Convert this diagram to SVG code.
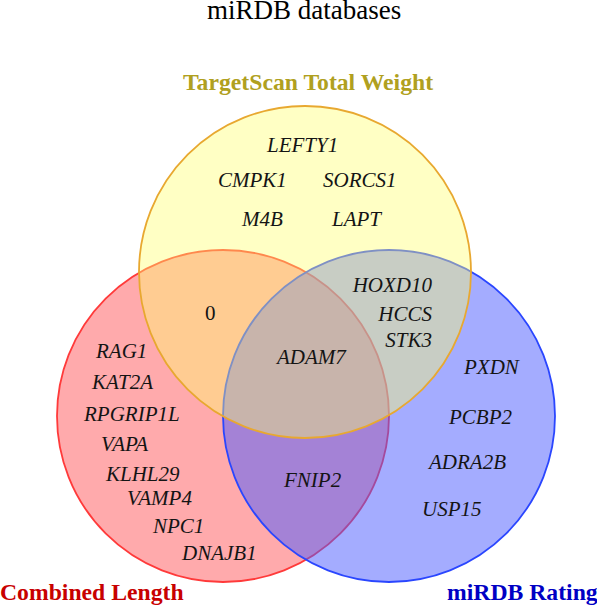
<svg xmlns="http://www.w3.org/2000/svg" width="597" height="612" viewBox="0 0 597 612">
<style>
.gene{font-family:"Liberation Serif","Times New Roman",serif;font-style:italic;font-size:21px;fill:#141414}
.num{font-family:"Liberation Serif","Times New Roman",serif;font-size:21px;fill:#141414}
.set{font-family:"Liberation Serif","Times New Roman",serif;font-weight:bold;font-size:23.7px}
.title{font-family:"Liberation Serif","Times New Roman",serif;font-size:27px;fill:#000}
.c{stroke-width:1.8}
</style>
<rect width="597" height="612" fill="#fff"/>
<text class="title" x="207" y="19">miRDB databases</text>
<g id="set-combined-length">
<circle class="c" cx="223" cy="416" r="166" fill="#ff5559" fill-opacity="0.5" stroke="#ff3a3a"/>
<text class="set" x="0" y="600" fill="#c80000">Combined Length</text>
</g>
<g id="set-mirdb-rating">
<circle class="c" cx="389" cy="416" r="166" fill="#4959ff" fill-opacity="0.5" stroke="#2a46ff"/>
<text class="set" x="447" y="600" fill="#0000c4">miRDB Rating</text>
</g>
<g id="set-targetscan">
<circle class="c" cx="305" cy="272" r="166" fill="#ffff6c" fill-opacity="0.4" stroke="#e8a830"/>
<text class="set" x="183" y="90" fill="#b0a020">TargetScan Total Weight</text>
</g>
<g id="region-targetscan-only">
<text class="gene" x="267" y="152">LEFTY1</text>
<text class="gene" x="218" y="187">CMPK1</text>
<text class="gene" x="323" y="187">SORCS1</text>
<text class="gene" x="242" y="226">M4B</text>
<text class="gene" x="332" y="226">LAPT</text>
</g>
<g id="region-targetscan-rating">
<text class="gene" x="432" y="292" text-anchor="end">HOXD10</text>
<text class="gene" x="432" y="321" text-anchor="end">HCCS</text>
<text class="gene" x="432" y="347" text-anchor="end">STK3</text>
</g>
<g id="region-targetscan-length">
<text class="num" x="205" y="320">0</text>
</g>
<g id="region-all">
<text class="gene" x="277" y="364">ADAM7</text>
</g>
<g id="region-length-only">
<text class="gene" x="96" y="358">RAG1</text>
<text class="gene" x="92" y="389">KAT2A</text>
<text class="gene" x="84" y="421">RPGRIP1L</text>
<text class="gene" x="101" y="451">VAPA</text>
<text class="gene" x="106" y="481">KLHL29</text>
<text class="gene" x="127" y="505">VAMP4</text>
<text class="gene" x="153" y="533">NPC1</text>
<text class="gene" x="182" y="560">DNAJB1</text>
</g>
<g id="region-length-rating">
<text class="gene" x="284" y="487">FNIP2</text>
</g>
<g id="region-rating-only">
<text class="gene" x="464" y="374">PXDN</text>
<text class="gene" x="449" y="424">PCBP2</text>
<text class="gene" x="429" y="469">ADRA2B</text>
<text class="gene" x="422" y="516">USP15</text>
</g>
</svg>
